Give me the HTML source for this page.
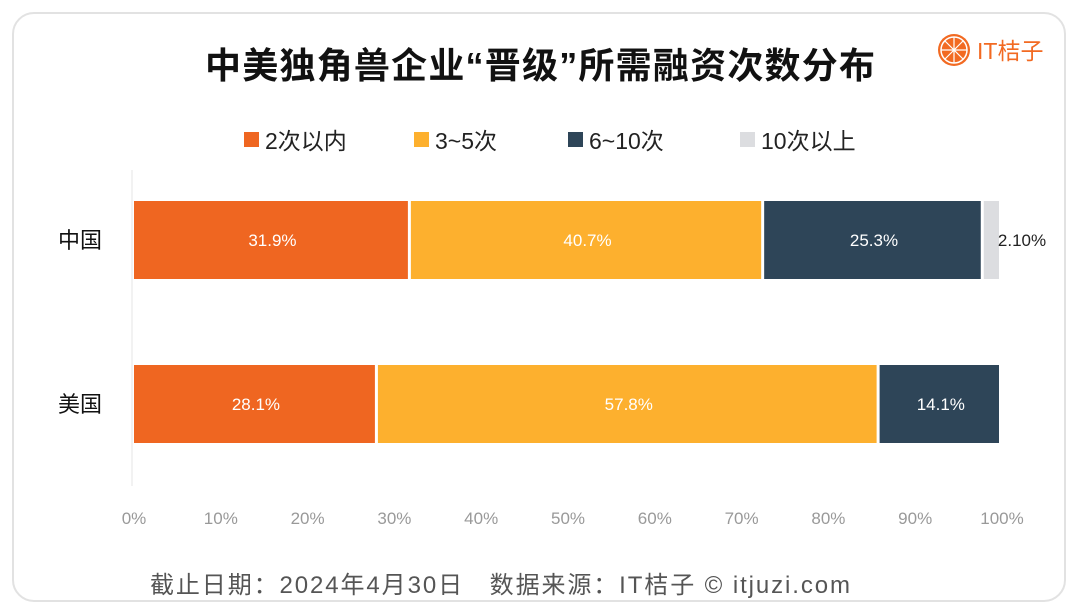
<!DOCTYPE html>
<html><head><meta charset="utf-8"><style>
body{margin:0;background:#fff;font-family:"Liberation Sans","Noto Sans CJK SC",sans-serif;}
#card{position:absolute;left:12px;top:12px;width:1054px;height:590px;border:2px solid #e2e2e2;border-radius:22px;box-sizing:border-box;}
</style></head><body>
<div id="card"></div>
<svg id="chart" width="1080" height="616" style="position:absolute;left:0;top:0">
<text x="205" y="78" textLength="670" lengthAdjust="spacing" font-size="36" font-weight="bold" fill="#111" font-family="Liberation Sans,Noto Sans CJK SC,sans-serif">中美独角兽企业“晋级”所需融资次数分布</text>
<g>
<circle cx="954" cy="50" r="16" fill="#f26a22"/>
<circle cx="954" cy="50" r="13" fill="none" stroke="#fff" stroke-width="1.5"/>
<path d="M954 37 L954 63 M941 50 L967 50 M945 41 L963 59 M963 41 L945 59" stroke="#fff" stroke-width="1.2"/>
<text x="977" y="59" font-size="23" fill="#f26a22" font-family="Liberation Sans,Noto Sans CJK SC,sans-serif">IT桔子</text>
</g>
<g id="legend"></g>
<g id="plot"></g>
<text x="150" y="593" textLength="700" lengthAdjust="spacing" font-size="24" fill="#555" font-family="Liberation Sans,Noto Sans CJK SC,sans-serif">截止日期：2024年4月30日&#160;&#160;&#160;数据来源：IT桔子 © itjuzi.com</text>
</svg>
<script>
const categories=["中国","美国"];
const seriesNames=["2次以内","3~5次","6~10次","10次以上"];
const chinaValues=[31.9,40.7,25.3,2.1];
const usValues=[28.1,57.8,14.1,0];
const chinaLabels=["31.9%","40.7%","25.3%","2.10%"];
const usLabels=["28.1%","57.8%","14.1%",""];
const ticks=[0,10,20,30,40,50,60,70,80,90,100];
const colors=["#ef6621","#fdb02e","#2e4558","#dcdde0"];
const NS="http://www.w3.org/2000/svg";
const x0=134,x1=1002;
const xs=v=>x0+(x1-x0)*v/100;
const rowY=[201,365],bh=78;
const ff="Liberation Sans,Noto Sans CJK SC,sans-serif";
function mk(t,a,p){const e=document.createElementNS(NS,t);for(const k in a)e.setAttribute(k,a[k]);p.appendChild(e);return e;}
const plot=document.getElementById('plot'),leg=document.getElementById('legend');
const axis=mk('line',{x1:132,x2:132,y1:170,y2:486,stroke:'#eee','stroke-width':1.5},plot);


ticks.forEach(t=>{const e=mk('text',{x:xs(t),y:524,'text-anchor':'middle','font-size':17,fill:'#999','font-family':ff},plot);e.textContent=t+'%';

});
const legX=[244,414,568,740];
seriesNames.forEach((n,i)=>{const r=mk('rect',{x:legX[i],y:132,width:15,height:15,fill:colors[i]},leg);


const t=mk('text',{x:legX[i]+21,y:149,'font-size':23,fill:'#222','font-family':ff},leg);t.textContent=n;

});
[chinaValues,usValues].forEach((vals,r)=>{
const labs=r==0?chinaLabels:usLabels;
const c=mk('text',{x:80,y:rowY[r]+bh/2+8,'text-anchor':'middle','font-size':22,fill:'#111','font-family':ff},plot);c.textContent=categories[r];


let acc=0;
vals.forEach((v,i)=>{if(v<=0)return;const a=xs(acc),b=xs(acc+v);acc+=v;
const rc=mk('rect',{x:a,y:rowY[r],width:Math.max(0,b-a-3),height:bh,fill:colors[i]},plot);


const small=v<5;
const t=mk('text',{x:small?b+20:(a+b)/2,y:rowY[r]+bh/2+6,'text-anchor':'middle','font-size':17,fill:small?'#222':'#fff','font-family':ff},plot);t.textContent=labs[i];

});
});
</script>
</body></html>
